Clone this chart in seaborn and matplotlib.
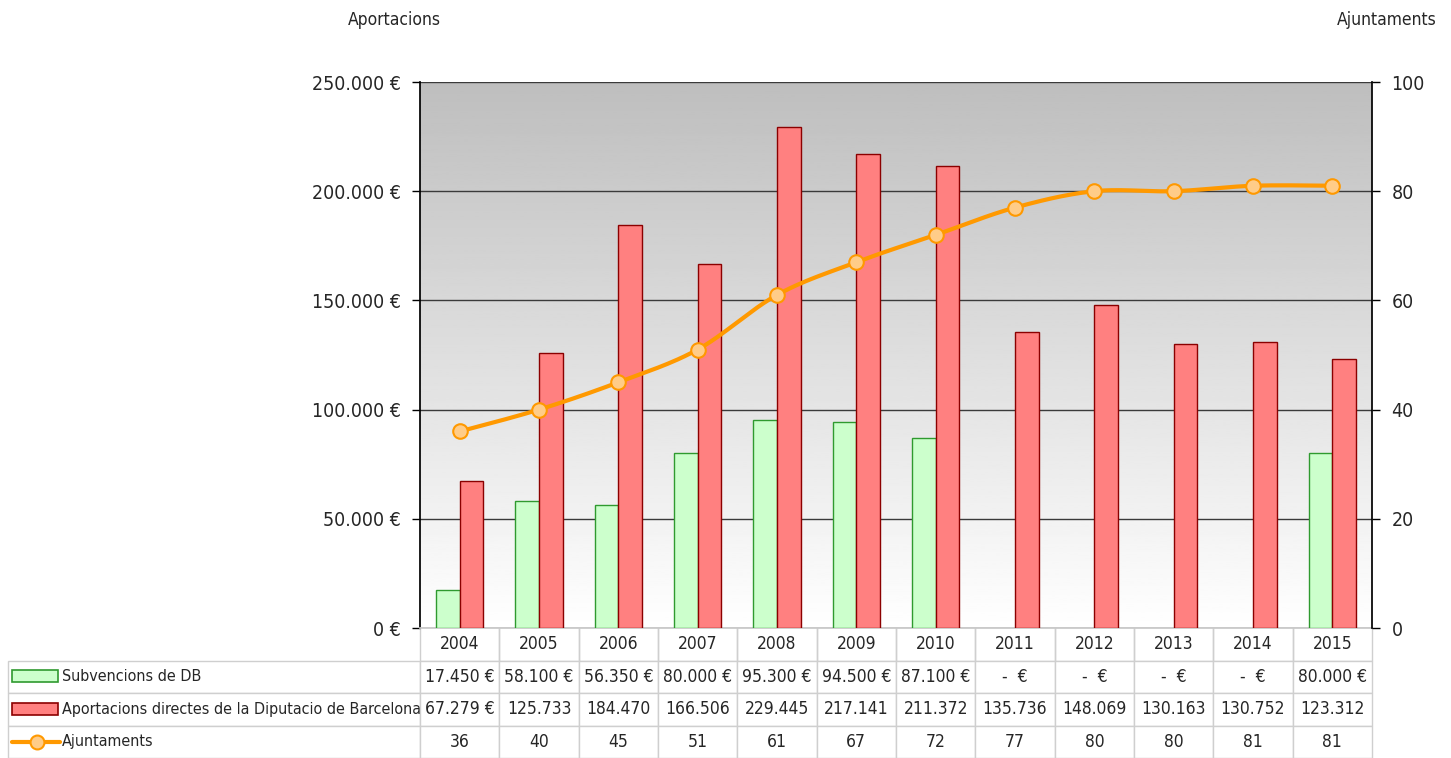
import numpy as np
import pandas as pd
import seaborn as sns
import matplotlib.pyplot as plt
from matplotlib.patches import Rectangle
from matplotlib.lines import Line2D
from matplotlib.ticker import FuncFormatter

sns.set_theme(style="white")
plt.rcParams['font.family'] = ['DejaVu Sans']
plt.rcParams['font.stretch'] = 'condensed'

# dades
anys = ['2004', '2005', '2006', '2007', '2008', '2009', '2010', '2011', '2012', '2013', '2014', '2015']
subvencions = [17450, 58100, 56350, 80000, 95300, 94500, 87100, 0, 0, 0, 0, 80000]
aportacions = [67279, 125733, 184470, 166506, 229445, 217141, 211372, 135736, 148069, 130163, 130752, 123312]
ajuntaments = [36, 40, 45, 51, 61, 67, 72, 77, 80, 80, 81, 81]

nom_sub = 'Subvencions de DB'
nom_apo = 'Aportacions directes de la Diputacio de Barcelona'
nom_aju = 'Ajuntaments'

txt_sub = ['17.450 €', '58.100 €', '56.350 €', '80.000 €', '95.300 €', '94.500 €', '87.100 €',
           ' -  € ', ' -  € ', ' -  € ', ' -  € ', '80.000 €']
txt_apo = ['67.279 €', '125.733', '184.470', '166.506', '229.445', '217.141', '211.372',
           '135.736', '148.069', '130.163', '130.752', '123.312']

verd, verd_vora = '#ccffcc', '#2f9a2f'
vermell, vermell_vora = '#ff8080', '#8b0000'
taronja, taronja_clar = '#ff9900', '#ffcc88'
text_col = '#262626'

df = pd.DataFrame({
    'any': anys * 2,
    'valor': subvencions + aportacions,
    'serie': [nom_sub] * len(anys) + [nom_apo] * len(anys),
})

W, H = 1451, 758
fig = plt.figure(figsize=(W / 100, H / 100), dpi=100)
ax = fig.add_axes([420 / W, 1 - 628 / H, 952 / W, 546 / H])

# fons degradat
grad = np.linspace(1.0, 0.745, 256).reshape(-1, 1)
ax.imshow(grad, extent=[0, 1, 0, 1], transform=ax.transAxes, cmap='gray',
          vmin=0, vmax=1, aspect='auto', zorder=0, origin='lower')

sns.barplot(data=df, x='any', y='valor', hue='serie', palette=[verd, vermell],
            saturation=1, width=0.6, gap=0, ax=ax, legend=False, zorder=3, linewidth=1)
for i, p in enumerate(ax.patches):
    p.set_edgecolor(verd_vora if i < len(anys) else vermell_vora)
    if p.get_height() == 0:
        p.set_linewidth(0)

ax.set_xlim(-0.5, len(anys) - 0.5)
ax.set_ylim(0, 250000)
ax.set_yticks(np.arange(0, 250001, 50000))
ax.yaxis.set_major_formatter(FuncFormatter(lambda v, _: f"{int(v):,} €".replace(',', '.')))
ax.grid(axis='y', color='#3a3a3a', linewidth=1, zorder=1)
ax.set_axisbelow(True)
ax.set_xlabel('')
ax.set_ylabel('')
ax.set_xticks(range(len(anys)))
ax.set_xticklabels([])
ax.tick_params(axis='x', length=0)
ax.tick_params(axis='y', direction='out', length=6, width=1, color='black',
               labelsize=14, labelcolor=text_col, pad=8, left=True)
for s in ['top', 'right']:
    ax.spines[s].set_visible(False)
ax.spines['left'].set_color('black')
ax.spines['bottom'].set_color('#c8c8c8')

# eix dret
ax2 = ax.twinx()
ax2.set_ylim(0, 100)
ax2.set_yticks(np.arange(0, 101, 20))


def catmull(xs, ys, n=24):
    pts = np.column_stack([xs, ys]).astype(float)
    ext = np.vstack([pts[0], pts, pts[-1]])
    segs = []
    t = np.linspace(0, 1, n, endpoint=False)[:, None]
    for i in range(1, len(ext) - 2):
        p0, p1, p2, p3 = ext[i - 1], ext[i], ext[i + 1], ext[i + 2]
        segs.append(0.5 * (2 * p1 + (-p0 + p2) * t + (2 * p0 - 5 * p1 + 4 * p2 - p3) * t ** 2
                           + (-p0 + 3 * p1 - 3 * p2 + p3) * t ** 3))
    segs.append(pts[-1:])
    return np.vstack(segs)


xs = np.arange(len(anys))
corba = catmull(xs, ajuntaments)
sns.lineplot(x=corba[:, 0], y=corba[:, 1], sort=False, estimator=None, color=taronja,
             linewidth=3, ax=ax2, zorder=4)
sns.scatterplot(x=xs, y=ajuntaments, s=110, color=taronja_clar, edgecolor=taronja,
                linewidth=1.5, ax=ax2, zorder=5)
ax2.set_xlim(-0.5, len(anys) - 0.5)
ax2.tick_params(axis='y', direction='out', length=6, width=1, color='black',
                labelsize=14, labelcolor=text_col, pad=8, right=True)
ax2.grid(False)
for s in ['top', 'left', 'bottom']:
    ax2.spines[s].set_visible(False)
ax2.spines['right'].set_color('black')
ax2.set_ylabel('')

fig.text(394 / W, 1 - 20 / H, 'Aportacions', ha='center', va='center', fontsize=12.5, color=text_col)
fig.text(1387 / W, 1 - 20 / H, nom_aju, ha='center', va='center', fontsize=12.5, color=text_col)

# taula de dades
cell_text = [[''] + anys,
             [nom_sub] + txt_sub,
             [nom_apo] + txt_apo,
             [nom_aju] + [str(v) for v in ajuntaments]]
lab_w = 412 / 952
col_w = [lab_w] + [1 / len(anys)] * len(anys)
tab_h = 130 / 546
tab = ax.table(cellText=cell_text, colWidths=col_w, cellLoc='center',
               bbox=[-lab_w, -tab_h, 1 + lab_w, tab_h])
tab.auto_set_font_size(False)
tab.set_fontsize(12.5)
for (r, c), cell in tab.get_celld().items():
    cell.set_edgecolor('#cfcfcf')
    cell.set_linewidth(1)
    cell.get_text().set_color(text_col)
    if c == 0:
        cell.get_text().set_horizontalalignment('left')
        cell.get_text().set_fontsize(11.5)
        cell.PAD = 54 / 412
    if r == 0:
        cell.visible_edges = '' if c == 0 else 'BRL'

# simbols de llegenda
def px(x, y):
    return ((x - 420) / 952, (628 - y) / 546)

for yc, fc, ec in [(676, verd, verd_vora), (709, vermell, vermell_vora)]:
    x0, y0 = px(12, yc + 6)
    ax.add_patch(Rectangle((x0, y0), 46 / 952, 12 / 546, transform=ax.transAxes,
                           facecolor=fc, edgecolor=ec, linewidth=1.2, clip_on=False, zorder=10))
xa, ya = px(12, 742)
xb, _ = px(60, 742)
ax.add_line(Line2D([xa, xb], [ya, ya], transform=ax.transAxes, color=taronja, linewidth=3,
                   clip_on=False, zorder=10))
xm, _ = px(37, 742)
ax.add_line(Line2D([xm], [ya], transform=ax.transAxes, marker='o', markersize=10,
                   markerfacecolor=taronja_clar, markeredgecolor=taronja, markeredgewidth=1.5,
                   clip_on=False, zorder=11))

fig.savefig('out.png', dpi=100)
